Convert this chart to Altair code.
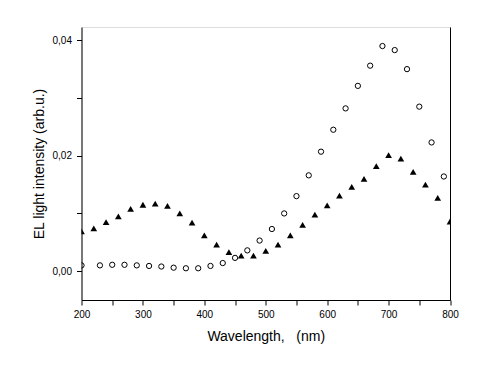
import altair as alt
import pandas as pd

# Filled triangles series
tri_x = [200, 220, 240, 260, 280, 300, 320, 340, 360, 380, 400, 420, 440, 460, 480,
         500, 520, 540, 560, 580, 600, 620, 640, 660, 680, 700, 720, 740, 760, 780, 800]
tri_y = [0.0069, 0.0074, 0.0085, 0.0095, 0.0108, 0.0115, 0.0117, 0.0113, 0.0100, 0.0084,
         0.0062, 0.0046, 0.0033, 0.0027, 0.0027, 0.0035, 0.0046, 0.0062, 0.0080, 0.0098,
         0.0114, 0.0131, 0.0146, 0.0160, 0.0182, 0.0201, 0.0195, 0.0172, 0.0150, 0.0127, 0.0086]

# Open circles series
circ_x = [200, 230, 250, 270, 290, 310, 330, 350, 370, 390, 410, 430, 450, 470, 490,
          510, 530, 550, 570, 590, 610, 630, 650, 670, 690, 710, 730, 750, 770, 790]
circ_y = [0.0010, 0.0010, 0.0011, 0.0011, 0.0010, 0.0009, 0.0008, 0.0006, 0.0005, 0.0005,
          0.0009, 0.0014, 0.0023, 0.0036, 0.0053, 0.0073, 0.0100, 0.0130, 0.0166, 0.0207,
          0.0245, 0.0282, 0.0321, 0.0356, 0.0390, 0.0383, 0.0350, 0.0285, 0.0223, 0.0164]

x_ticks = [200, 250, 300, 350, 400, 450, 500, 550, 600, 650, 700, 750, 800]
y_ticks = [0.0, 0.01, 0.02, 0.03, 0.04]

tri = pd.DataFrame({"x": tri_x, "y": tri_y})
circ = pd.DataFrame({"x": circ_x, "y": circ_y})

xscale = alt.Scale(domain=[200, 800], nice=False, zero=False)
yscale = alt.Scale(domain=[-0.005, 0.0423], nice=False, zero=False)

lab_font = "Liberation Sans"

xaxis = alt.Axis(values=x_ticks, title="Wavelength,\u00a0\u00a0\u00a0(nm)", grid=False,
                 labelExpr="datum.value % 100 == 0 ? datum.value : ''",
                 labelFlush=False, labelOverlap=False,
                 tickSize=5, labelPadding=4, labelFont=lab_font, labelFontSize=10,
                 titleFont="Liberation Sans", titleFontSize=14, titleFontWeight="normal",
                 titlePadding=10, domainColor="black", tickColor="black",
                 labelColor="black", titleColor="black")
yaxis = alt.Axis(values=y_ticks, title="EL light intensity (arb.u.)", grid=False,
                 labelExpr="(round(datum.value*1000) % 20 == 0) ? replace(format(datum.value, '.2f'), '.', ',') : ''",
                 labelFlush=False, labelOverlap=False,
                 tickSize=5, labelPadding=5, labelFont=lab_font, labelFontSize=10,
                 titleFont="Liberation Sans", titleFontSize=14, titleFontWeight="normal",
                 titlePadding=6, domainColor="black", tickColor="black",
                 labelColor="black", titleColor="black")

circles = alt.Chart(circ).mark_point(shape="circle", filled=False, color="black",
                                      size=28, strokeWidth=1, opacity=1, clip=True).encode(
    x=alt.X("x:Q", scale=xscale, axis=xaxis),
    y=alt.Y("y:Q", scale=yscale, axis=yaxis),
)

tris = alt.Chart(tri).mark_point(shape="triangle-up", filled=True, color="black",
                                  size=45, opacity=1, clip=True).encode(
    x=alt.X("x:Q", scale=xscale, axis=xaxis),
    y=alt.Y("y:Q", scale=yscale,
            axis=alt.Axis(orient="right", title=None, labels=False, ticks=False,
                          grid=False, domainColor="black")),
)

chart = alt.layer(circles, tris).resolve_axis(y="independent").properties(
    width=368.5, height=273,
    autosize=alt.AutoSizeParams(type="none"),
    padding={"left": 73.5, "top": 19, "right": 20, "bottom": 50},
).configure_view(stroke=None).configure(background="white")

chart.save("out.html", embed_options={"renderer": "svg", "actions": False})
